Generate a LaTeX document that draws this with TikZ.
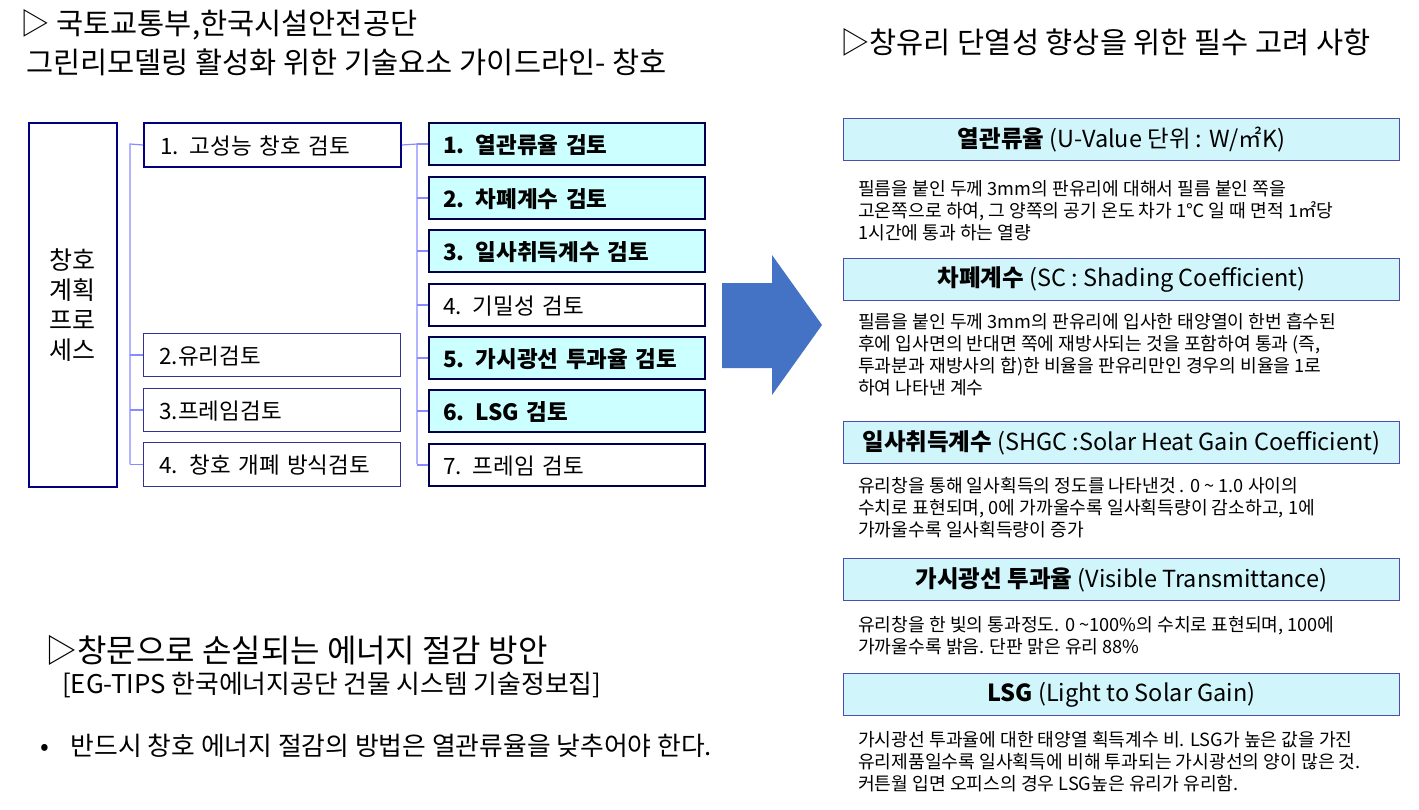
\documentclass[tikz,border=0pt]{standalone}
\usepackage{fontspec}
\setmainfont{Noto Sans CJK KR}
\definecolor{hlc}{RGB}{204,255,255}
\definecolor{rbc}{RGB}{208,246,252}
\definecolor{arr}{RGB}{68,114,196}
\begin{document}
\begin{tikzpicture}[x=1pt,y=-1pt,
  box/.style={draw=blue!45!black!80,line width=1pt,anchor=north west,inner sep=0,font=\fontsize{22.5}{26}\selectfont,text depth=0pt},
  lb/.style={box,draw=blue!50!black,line width=2pt},
  hl/.style={box,draw=blue!30!black,line width=2pt,fill=hlc,font=\fontsize{22.5}{26}\selectfont\bfseries},
  pl/.style={box,draw=blue!30!black,line width=2pt},
  rb/.style={draw=blue!40!gray,line width=1pt,fill=rbc,anchor=north west,minimum width=556,minimum height=42,inner sep=0,font=\fontsize{23.5}{26}\selectfont},
  para/.style={anchor=north west,align=left,font=\fontsize{18.2}{22}\selectfont,inner sep=0},
  cn/.style={draw=blue!40!white!90!blue,line width=1.2pt}]
\useasboundingbox (0,0) rectangle (1419,809);
\node[anchor=west,font=\fontsize{29.5}{32}\selectfont,inner sep=0] (t1) at (20,25) {▷ 국토교통부,한국시설안전공단};
\node[anchor=west,font=\fontsize{29.5}{32}\selectfont,inner sep=0] (t2) at (26,62) {그린리모델링 활성화 위한 기술요소 가이드라인- 창호};
\node[draw=blue!50!black,line width=1.5pt,anchor=north west,minimum width=88,minimum height=364,inner sep=0] (L) at (28,122) {};
\node[align=center,font=\fontsize{25}{30}\selectfont] at (L.center) {창호\\계획\\프로\\세스};
% col2
\node[lb,minimum width=257,minimum height=44,text width=225,align=left] (a1) at (143,122) {1. 고성능 창호 검토};
\node[box,minimum width=257,minimum height=43,text width=225,align=left] (a2) at (143,333) {2.유리검토};
\node[box,minimum width=257,minimum height=43,text width=225,align=left] (a3) at (143,388) {3.프레임검토};
\node[box,minimum width=257,minimum height=44,text width=225,align=left] (a4) at (143,442) {4. 창호 개폐 방식검토};
\coordinate (v1) at (130,144);
\coordinate (v2) at (130,464);
\draw[cn] (v2) -- (v1) -- (a1.west);
\foreach \n in {a2,a3,a4} \draw[cn] (130,0 |- \n.west) -- (\n.west);
% col3
\node[hl,minimum width=276,minimum height=42,text width=248,align=left] (b1) at (428,122) {1. 열관류율 검토};
\node[hl,minimum width=276,minimum height=42,text width=248,align=left] (b2) at (428,176) {2. 차폐계수 검토};
\node[hl,minimum width=276,minimum height=42,text width=248,align=left] (b3) at (428,229) {3. 일사취득계수 검토};
\node[pl,minimum width=276,minimum height=42,text width=248,align=left] (b4) at (428,283) {4. 기밀성 검토};
\node[hl,minimum width=276,minimum height=42,text width=248,align=left] (b5) at (428,336) {5. 가시광선 투과율 검토};
\node[hl,minimum width=276,minimum height=42,text width=248,align=left] (b6) at (428,389) {6. LSG 검토};
\node[pl,minimum width=276,minimum height=42,text width=248,align=left] (b7) at (428,443) {7. 프레임 검토};
\draw[cn] (a1.east) -- (417,144) -- (417,464);
\foreach \n in {b1,b2,b3,b4,b5,b6,b7} \draw[cn] (417,0 |- \n.west) -- (\n.west);
% arrow
\fill[arr] (722,283) -- (772,283) -- (772,255) -- (822,325) -- (772,395) -- (772,368) -- (722,368) -- cycle;
% right
\node[anchor=west,font=\fontsize{29.5}{32}\selectfont,inner sep=0] (rt) at (840,42) {▷창유리 단열성 향상을 위한 필수 고려 사항};
\node[rb] (r1) at (843,118) {{\bfseries 열관류율} (U-Value 단위 : W/㎡K)};
\node[para] (p1) at (858,180) {필름을 붙인 두께 3mm의 판유리에 대해서 필름 붙인 쪽을\\고온쪽으로 하여, 그 양쪽의 공기 온도 차가 1℃ 일 때 면적 1㎡당\\1시간에 통과 하는 열량};
\node[rb] (r2) at (843,258) {{\bfseries 차폐계수} (SC : Shading Coefficient)};
\node[para] (p2) at (858,313) {필름을 붙인 두께 3mm의 판유리에 입사한 태양열이 한번 흡수된\\후에 입사면의 반대면 쪽에 재방사되는 것을 포함하여 통과 (즉,\\투과분과 재방사의 합)한 비율을 판유리만인 경우의 비율을 1로\\하여 나타낸 계수};
\node[rb] (r3) at (843,421) {{\bfseries 일사취득계수} (SHGC :Solar Heat Gain Coefficient)};
\node[para] (p3) at (858,477) {유리창을 통해 일사획득의 정도를 나타낸것 . 0 \textasciitilde{} 1.0 사이의\\수치로 표현되며, 0에 가까울수록 일사획득량이 감소하고, 1에\\가까울수록 일사획득량이 증가};
\node[rb] (r4) at (843,558) {{\bfseries 가시광선 투과율} (Visible Transmittance)};
\node[para] (p4) at (858,616) {유리창을 한 빛의 통과정도. 0 \textasciitilde100\%의 수치로 표현되며, 100에\\가까울수록 밝음. 단판 맑은 유리 88\%};
\node[rb] (r5) at (843,673) {{\bfseries LSG} (Light to Solar Gain)};
\node[para] (p5) at (858,731) {가시광선 투과율에 대한 태양열 획득계수 비. LSG가 높은 값을 가진\\유리제품일수록 일사획득에 비해 투과되는 가시광선의 양이 많은 것.\\커튼월 입면 오피스의 경우 LSG높은 유리가 유리함.};
% bottom left
\node[anchor=west,font=\fontsize{32}{36}\selectfont,inner sep=0] (bt) at (45,650) {▷창문으로 손실되는 에너지 절감 방안};
\node[anchor=west,font=\fontsize{25.8}{28}\selectfont,inner sep=0] (bs) at (62,685) {[EG-TIPS 한국에너지공단 건물 시스템 기술정보집]};
\node[anchor=west,font=\fontsize{25.8}{28}\selectfont,inner sep=0] (bb) at (40,746) {•\hspace{22pt}반드시 창호 에너지 절감의 방법은 열관류율을 낮추어야 한다.};
\end{tikzpicture}
\end{document}
